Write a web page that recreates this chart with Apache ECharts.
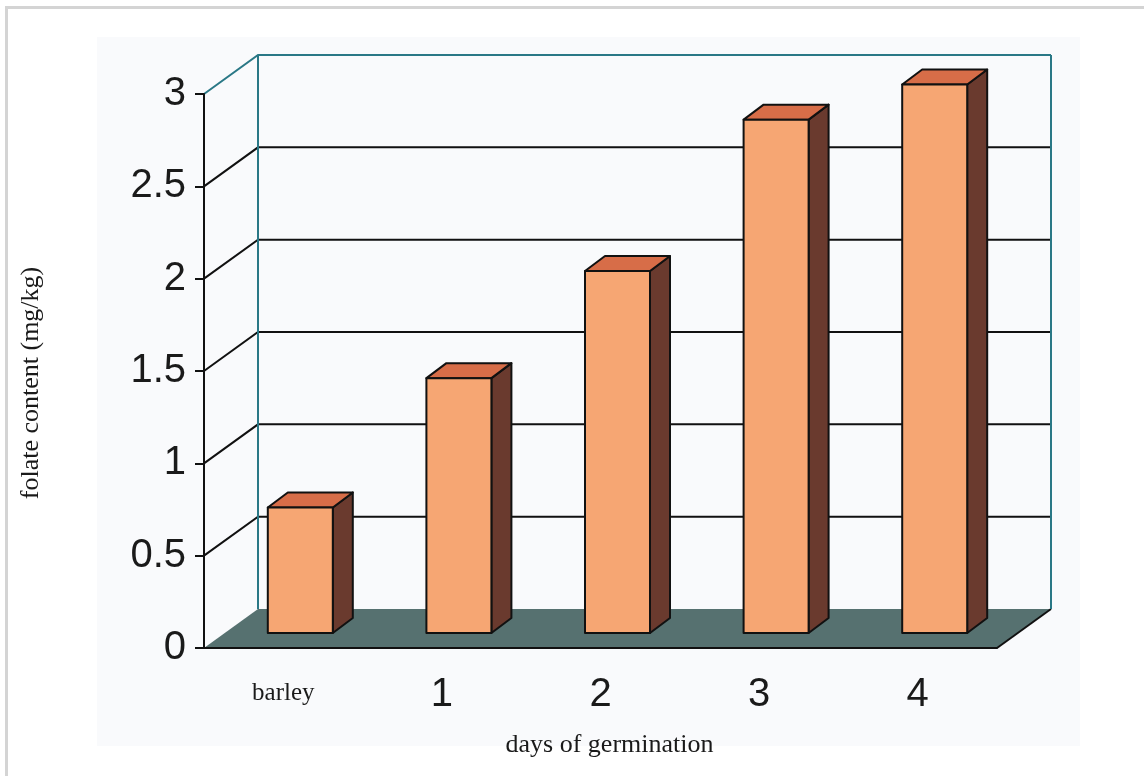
<!DOCTYPE html>
<html>
<head>
<meta charset="utf-8">
<title>Folate content during germination</title>
<script src="https://cdn.jsdelivr.net/npm/echarts@6/dist/echarts.min.js"></script>
<style>
  html, body { margin: 0; padding: 0; background: #fff; }
  .frame {
    position: absolute; left: 5px; top: 6px; width: 1200px; height: 800px;
    border-left: 3px solid #d4d4d4; border-top: 3px solid #d4d4d4;
  }
  .panel {
    position: absolute; left: 97px; top: 37px; width: 983px; height: 709px;
    background: #f9fafc;
  }
  #chart { position: absolute; left: 0; top: 0; width: 1144px; height: 776px; }
</style>
</head>
<body>
<div class="frame"></div>
<div class="panel"></div>
<div id="chart"></div>
<script>
// data
const categories = ['barley', '1', '2', '3', '4']
const folate = [0.68, 1.38, 1.96, 2.78, 2.97]
const yTicks = [0, 0.5, 1, 1.5, 2, 2.5, 3]

const SANS = "'Liberation Sans', Arial, sans-serif"
const SERIF = "'Liberation Serif', 'Times New Roman', serif"
const COLORS = {
  front: '#f6a673',
  top: '#d76d48',
  side: '#6a3a2e',
  floor: '#567170',
  teal: '#2a7886',
  line: '#111111',
  text: '#1a1a1a',
}
// depth of the back wall, and bar placement inside the box
const WALL = [54, -39]
const FACE = [17, -15]
const DEPTH = [20, -15]
const BAR_W = 65

function renderWall(params, api) {
  const cs = params.coordSys
  const v = api.value(1)
  const y = api.coord([0, v])[1]
  const yTop = api.coord([0, yTicks[yTicks.length - 1]])[1]
  const left = cs.x
  const right = cs.x + cs.width
  const children = []
  if (v === 0) {
    children.push({
      type: 'polygon',
      shape: { points: [[left, y], [right, y], [right + WALL[0], y + WALL[1]], [left + WALL[0], y + WALL[1]]] },
      style: { fill: COLORS.floor },
    })
    children.push({
      type: 'line',
      shape: { x1: right, y1: y, x2: right + WALL[0], y2: y + WALL[1] },
      style: { stroke: COLORS.line, lineWidth: 2 },
    })
    for (const x of [left + WALL[0], right + WALL[0]]) {
      children.push({
        type: 'line',
        z2: 10,
        shape: { x1: x, y1: yTop + WALL[1], x2: x, y2: y + WALL[1] },
        style: { stroke: COLORS.teal, lineWidth: 2 },
      })
    }
  } else {
    const isTop = v === yTicks[yTicks.length - 1]
    children.push({
      type: 'polyline',
      z2: isTop ? 10 : 1,
      shape: { points: [[left, y], [left + WALL[0], y + WALL[1]], [right + WALL[0], y + WALL[1]]] },
      style: { stroke: isTop ? COLORS.teal : COLORS.line, lineWidth: 2, fill: null },
    })
  }
  return { type: 'group', children }
}

function renderBar(params, api) {
  const i = api.value(0)
  const base = api.coord([i, 0])
  const top = api.coord([i, api.value(1)])
  const x0 = base[0] - BAR_W / 2 + FACE[0]
  const x1 = x0 + BAR_W
  const yb = base[1] + FACE[1]
  const yt = top[1] + FACE[1]
  const stroke = { stroke: COLORS.line, lineWidth: 2, lineJoin: 'round' }
  return {
    type: 'group',
    children: [
      {
        type: 'polygon',
        shape: { points: [[x1, yt], [x1 + DEPTH[0], yt + DEPTH[1]], [x1 + DEPTH[0], yb + DEPTH[1]], [x1, yb]] },
        style: { fill: COLORS.side, ...stroke },
      },
      {
        type: 'polygon',
        shape: { points: [[x0, yt], [x0 + DEPTH[0], yt + DEPTH[1]], [x1 + DEPTH[0], yt + DEPTH[1]], [x1, yt]] },
        style: { fill: COLORS.top, ...stroke },
      },
      {
        type: 'polygon',
        shape: { points: [[x0, yt], [x1, yt], [x1, yb], [x0, yb]] },
        style: { fill: COLORS.front, ...stroke },
      },
    ],
  }
}

const chart = echarts.init(document.getElementById('chart'))
chart.setOption({
  animation: false,
  backgroundColor: 'transparent',
  grid: { left: 204, right: 147, top: 94, bottom: 128 },
  xAxis: {
    type: 'category',
    data: categories,
    z: 10,
    name: 'days of germination',
    nameLocation: 'middle',
    nameGap: 84,
    nameTextStyle: { fontFamily: SERIF, fontSize: 26, color: COLORS.text, padding: [0, 0, 0, 18] },
    axisLine: { lineStyle: { color: COLORS.line, width: 2 } },
    axisTick: { length: 11, interval: 0, lineStyle: { color: COLORS.line, width: 2 } },
    axisLabel: {
      interval: 0,
      margin: 27,
      formatter: v => (v === 'barley' ? '{s|' + v + '}' : '{n|' + v + '}'),
      rich: {
        s: { fontFamily: SERIF, fontSize: 25, color: COLORS.text, padding: [6, 0, 0, 0] },
        n: { fontFamily: SANS, fontSize: 40, color: COLORS.text },
      },
    },
  },
  yAxis: {
    type: 'value',
    min: yTicks[0],
    max: yTicks[yTicks.length - 1],
    interval: yTicks[1] - yTicks[0],
    z: 10,
    name: 'folate content (mg/kg)',
    nameLocation: 'middle',
    nameGap: 160,
    nameTextStyle: { fontFamily: SERIF, fontSize: 26, color: COLORS.text, padding: [0, 24, 0, 0] },
    axisLine: { show: true, lineStyle: { color: COLORS.line, width: 2 } },
    axisTick: { show: true, length: 9, lineStyle: { color: COLORS.line, width: 2 } },
    axisLabel: { fontFamily: SANS, fontSize: 40, color: COLORS.text, margin: 18 },
    splitLine: { show: false },
  },
  series: [
    {
      type: 'custom',
      name: 'wall',
      z: 1,
      silent: true,
      renderItem: renderWall,
      data: yTicks.map(v => [0, v]),
      encode: { x: 0, y: 1 },
    },
    {
      type: 'custom',
      name: 'folate',
      z: 3,
      renderItem: renderBar,
      data: categories.map((c, i) => [i, folate[i]]),
      encode: { x: 0, y: 1 },
    },
  ],
})
</script>
</body>
</html>
